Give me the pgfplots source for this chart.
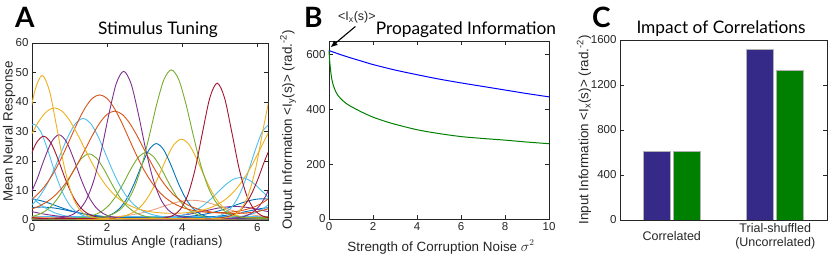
\documentclass[border=0pt]{standalone}
\usepackage{fontspec}
\setmainfont{Liberation Sans}
\newfontfamily\titlefont{Lato}
\usepackage{pgfplots}
\pgfplotsset{compat=1.18}
\usetikzlibrary{arrows.meta}
\definecolor{mblue}{RGB}{0,114,189}
\definecolor{morange}{RGB}{217,83,25}
\definecolor{myellow}{RGB}{237,177,32}
\definecolor{mpurple}{RGB}{126,47,142}
\definecolor{mgreen}{RGB}{119,172,48}
\definecolor{mlblue}{RGB}{77,190,238}
\definecolor{mred}{RGB}{162,20,47}
\definecolor{barblue}{RGB}{53,42,135}
\definecolor{bargreen}{RGB}{0,128,0}
\definecolor{axgray}{RGB}{38,38,38}
\pgfplotsset{
 mat/.style={
  scale only axis, anchor=south west,
  axis line style={line width=0.6pt, draw=axgray},
  tick style={line width=0.6pt, draw=axgray},
  major tick length=4pt,
  tick align=inside,
  tick label style={font=\fontsize{11.5}{13}\selectfont, text=axgray},
  label style={font=\fontsize{13.4}{15}\selectfont, text=axgray},
  /pgf/number format/assume math mode=true,
  /pgf/number format/1000 sep={},
  every axis plot/.append style={line width=0.9pt},
 }
}
\begin{document}
\begin{tikzpicture}[x=1pt,y=1pt]
\useasboundingbox (0,0) rectangle (830,256);
% ---------------- Panel A ----------------
\begin{axis}[mat, at={(32pt,36pt)}, width=236pt, height=177pt,
  xmin=0, xmax=6.2832, ymin=0, ymax=60,
  xtick={0,2,4,6}, ytick={0,10,...,60},
  xlabel={Stimulus Angle (radians)}, ylabel={Mean Neural Response},
  xlabel style={at={(axis description cs:0.498,-0.124)}, anchor=center},
  ylabel style={at={(axis description cs:-0.097,0.5)}, anchor=center}]
% flat baseline responses
\addplot[mblue] coordinates {(-0.2,0.3) (6.5,0.3)};
\addplot[mgreen] coordinates {(-0.2,0.55) (6.5,0.55)};
\addplot[myellow] coordinates {(-0.2,0.15) (6.5,0.15)};
\addplot[mred] coordinates {(-0.2,0.8) (6.5,0.8)};
\addplot[morange] coordinates {(-0.2,1.0) (6.5,1.0)};
\addplot[mpurple] coordinates {(-0.2,0.65) (6.5,0.65)};
\addplot[mlblue] coordinates {(-0.2,1.25) (6.5,1.25)};
% C19 blue small
\addplot[mblue, smooth] coordinates {(-0.1427,3.97) (0.25,4.4) (0.6427,3.97) (1.0354,2.98) (1.4281,1.98) (1.8208,1.29) (2.2135,0.90) (2.6062,0.71) (2.9989,0.62) (3.3916,0.60) (3.7843,0.62) (4.1770,0.71) (4.5697,0.90) (4.9624,1.29) (5.3551,1.98) (5.7478,2.98) (6.1405,3.97) (6.5332,4.4)};
% C20 purple small
\addplot[mpurple, smooth] coordinates {(-0.0978,3.11) (0.2949,2.06) (0.6876,1.34) (1.0803,0.93) (1.4730,0.72) (1.8657,0.63) (2.2584,0.61) (2.6511,0.63) (3.0438,0.72) (3.4365,0.93) (3.8292,1.34) (4.2219,2.06) (4.6146,3.11) (5.0073,4.15) (5.4,4.6) (5.7927,4.15) (6.1854,3.11) (6.5781,2.06)};
% C18 blue
\addplot[mblue, smooth] coordinates {(-0.1332,7.2) (0.0632,7.01) (0.2595,6.47) (0.4559,5.68) (0.6522,4.78) (0.8486,3.89) (1.0449,3.09) (1.2413,2.43) (1.4376,1.92) (1.6340,1.53) (1.8303,1.25) (2.0267,1.06) (2.2230,0.92) (2.6157,0.78) (3.0084,0.74) (3.4011,0.78) (3.7938,0.92) (3.9902,1.06) (4.1865,1.25) (4.3829,1.53) (4.5792,1.92) (4.7756,2.43) (4.9719,3.09) (5.1683,3.89) (5.3646,4.78) (5.5610,5.68) (5.7573,6.47) (5.9537,7.01) (6.15,7.2) (6.3463,7.01)};
% C17 light orange
\addplot[morange!55, smooth] coordinates {(-0.0697,1.19) (0.3230,0.89) (0.7157,0.75) (1.1084,0.71) (1.5011,0.75) (1.8938,0.89) (2.2865,1.19) (2.4829,1.45) (2.6792,1.81) (2.8756,2.28) (3.0719,2.90) (3.2683,3.63) (3.4646,4.46) (3.6610,5.29) (3.8573,6.02) (4.0537,6.52) (4.25,6.7) (4.4463,6.52) (4.6427,6.02) (4.8390,5.29) (5.0354,4.46) (5.2317,3.63) (5.4281,2.90) (5.6244,2.28) (5.8208,1.81) (6.0171,1.45) (6.2135,1.19) (6.4098,1.01)};
% C16 light blue broad
\addplot[mlblue, smooth] coordinates {(-0.1441,9.59) (0.0522,7.13) (0.2486,5.01) (0.4449,3.39) (0.6413,2.27) (0.8376,1.55) (1.0340,1.11) (1.2303,0.84) (1.4267,0.69) (1.6230,0.60) (2.0157,0.51) (2.4084,0.49) (2.8011,0.51) (3.1938,0.60) (3.3902,0.69) (3.5865,0.84) (3.7829,1.11) (3.9792,1.55) (4.1756,2.27) (4.3719,3.39) (4.5683,5.01) (4.7646,7.13) (4.9610,9.59) (5.1573,11.97) (5.3537,13.74) (5.55,14.4) (5.7463,13.74) (5.9427,11.97) (6.1390,9.59) (6.3354,7.13)};
% C10 green
\addplot[mgreen, smooth] coordinates {(-0.0508,1.06) (0.1456,1.72) (0.3419,2.94) (0.5383,5.04) (0.7346,8.29) (0.9310,12.60) (1.1273,17.25) (1.3237,20.97) (1.52,22.4) (1.7163,20.97) (1.9127,17.25) (2.1090,12.60) (2.3054,8.29) (2.5017,5.04) (2.6981,2.94) (2.8944,1.72) (3.0908,1.06) (3.2871,0.74) (3.4835,0.57) (3.6798,0.49) (3.8762,0.45) (4.0725,0.45) (4.2689,0.45) (4.4652,0.45) (4.6616,0.45) (4.8579,0.45) (5.0543,0.45) (5.2506,0.45) (5.4470,0.45) (5.6433,0.49) (5.8397,0.57) (6.0360,0.74) (6.2324,1.06) (6.4287,1.72)};
% C13 green
\addplot[mgreen, smooth] coordinates {(-0.1016,0.45) (0.0948,0.45) (0.2911,0.45) (0.4875,0.45) (0.6838,0.45) (0.8802,0.50) (1.0765,0.58) (1.2729,0.74) (1.4692,1.08) (1.6656,1.75) (1.8619,2.99) (2.0583,5.15) (2.2546,8.47) (2.4510,12.87) (2.6473,17.64) (2.8437,21.44) (3.04,22.9) (3.2363,21.44) (3.4327,17.64) (3.6290,12.87) (3.8254,8.47) (4.0217,5.15) (4.2181,2.99) (4.4144,1.75) (4.6108,1.08) (4.8071,0.74) (5.0035,0.58) (5.1998,0.50) (5.3962,0.45) (5.5925,0.45) (5.7889,0.45) (5.9852,0.45) (6.1816,0.45) (6.3779,0.45)};
% C15 yellow
\addplot[myellow, smooth] coordinates {(-0.1433,0.52) (0.0530,0.45) (0.2494,0.45) (0.4457,0.45) (0.6421,0.45) (0.8384,0.45) (1.0348,0.45) (1.2311,0.45) (1.4275,0.45) (1.6238,0.45) (1.8202,0.52) (2.0165,0.61) (2.2129,0.81) (2.4092,1.22) (2.6056,2.01) (2.8019,3.51) (2.9983,6.10) (3.1946,10.09) (3.3910,15.37) (3.5873,21.08) (3.7837,25.65) (3.98,27.4) (4.1763,25.65) (4.3727,21.08) (4.5690,15.37) (4.7654,10.09) (4.9617,6.10) (5.1581,3.51) (5.3544,2.01) (5.5508,1.22) (5.7471,0.81) (5.9435,0.61) (6.1398,0.52) (6.3362,0.45)};
% C14 blue
\addplot[mblue, smooth] coordinates {(-0.0279,0.4) (0.1684,0.4) (0.3648,0.4) (0.5611,0.4) (0.7575,0.4) (0.9538,0.4) (1.1502,0.4) (1.3465,0.45) (1.5429,0.52) (1.7392,0.68) (1.9356,1.08) (2.1319,1.99) (2.3283,3.85) (2.5246,7.23) (2.7210,12.34) (2.9173,18.51) (3.1137,23.79) (3.31,25.9) (3.5063,23.79) (3.7027,18.51) (3.8990,12.34) (4.0954,7.23) (4.2917,3.85) (4.4881,1.99) (4.6844,1.08) (4.8808,0.68) (5.0771,0.52) (5.2735,0.45) (5.4698,0.4) (5.6662,0.4) (5.8625,0.4) (6.0589,0.4) (6.2552,0.4) (6.4516,0.4)};
% C9 light blue
\addplot[mlblue, smooth] coordinates {(-0.0144,4.95) (0.1819,7.67) (0.3783,11.59) (0.5746,16.75) (0.7710,22.71) (0.9673,28.51) (1.1637,32.81) (1.36,34.4) (1.5563,32.81) (1.7527,28.51) (1.9490,22.71) (2.1454,16.75) (2.3417,11.59) (2.5381,7.67) (2.7344,4.95) (2.9308,3.19) (3.1271,2.11) (3.3235,1.47) (3.5198,1.10) (3.7162,0.88) (3.9125,0.75) (4.1089,0.68) (4.3052,0.64) (4.5016,0.63) (4.6979,0.64) (4.8943,0.68) (5.0906,0.75) (5.2870,0.88) (5.4833,1.10) (5.6797,1.47) (5.8760,2.11) (6.0724,3.19) (6.2687,4.95) (6.4651,7.67)};
% C3 light blue
\addplot[mlblue, smooth] coordinates {(-0.1564,29.84) (0.04,32.5) (0.2363,29.84) (0.4327,23.19) (0.6290,15.44) (0.8254,8.99) (1.0217,4.74) (1.2181,2.40) (1.4144,1.26) (1.6108,0.76) (1.8071,0.55) (2.0035,0.46) (2.1998,0.4) (2.3962,0.4) (2.5925,0.4) (2.7889,0.4) (2.9852,0.4) (3.1816,0.4) (3.3779,0.4) (3.5743,0.4) (3.7706,0.4) (3.9670,0.4) (4.1633,0.4) (4.3597,0.46) (4.5560,0.55) (4.7524,0.76) (4.9487,1.26) (5.1451,2.40) (5.3414,4.74) (5.5378,8.99) (5.7341,15.44) (5.9305,23.19) (6.1268,29.84) (6.3232,32.5)};
% C4 dark red
\addplot[mred, smooth] coordinates {(-0.0827,20.28) (0.1137,26.08) (0.31,28.4) (0.5063,26.08) (0.7027,20.28) (0.8990,13.52) (1.0954,7.90) (1.2917,4.19) (1.4881,2.14) (1.6844,1.15) (1.8808,0.71) (2.0771,0.53) (2.2735,0.46) (2.4698,0.4) (2.6662,0.4) (2.8625,0.4) (3.0589,0.4) (3.2552,0.4) (3.4516,0.4) (3.6479,0.4) (3.8443,0.4) (4.0406,0.4) (4.2370,0.4) (4.4333,0.4) (4.6297,0.46) (4.8260,0.53) (5.0224,0.71) (5.2187,1.15) (5.4151,2.14) (5.6114,4.19) (5.8078,7.90) (6.0041,13.52) (6.2005,20.28) (6.3968,26.08)};
% C5 purple
\addplot[mpurple, smooth] coordinates {(-0.0654,8.03) (0.1310,13.75) (0.3273,20.64) (0.5237,26.54) (0.72,28.9) (0.9163,26.54) (1.1127,20.64) (1.3090,13.75) (1.5054,8.03) (1.7017,4.26) (1.8981,2.17) (2.0944,1.16) (2.2908,0.72) (2.4871,0.53) (2.6835,0.46) (2.8798,0.4) (3.0762,0.4) (3.2725,0.4) (3.4689,0.4) (3.6652,0.4) (3.8616,0.4) (4.0579,0.4) (4.2543,0.4) (4.4506,0.4) (4.6470,0.4) (4.8433,0.4) (5.0397,0.46) (5.2360,0.53) (5.4324,0.72) (5.6287,1.16) (5.8251,2.17) (6.0214,4.26) (6.2178,8.03) (6.4141,13.75)};
% C7 orange
\addplot[morange, smooth] coordinates {(-0.1562,3.22) (0.0402,3.94) (0.2365,4.99) (0.4329,6.48) (0.6292,8.54) (0.8256,11.31) (1.0219,14.86) (1.2183,19.14) (1.4146,23.92) (1.6110,28.75) (1.8073,32.96) (2.0037,35.86) (2.2,36.9) (2.3963,35.86) (2.5927,32.96) (2.7890,28.75) (2.9854,23.92) (3.1817,19.14) (3.3781,14.86) (3.5744,11.31) (3.7708,8.54) (3.9671,6.48) (4.1635,4.99) (4.3598,3.94) (4.5562,3.22) (4.7525,2.74) (4.9489,2.44) (5.1452,2.27) (5.3416,2.22) (5.5379,2.27) (5.7343,2.44) (5.9306,2.74) (6.1270,3.22) (6.3233,3.94)};
% C6 orange
\addplot[morange, smooth] coordinates {(-0.1635,5.68) (0.0329,7.39) (0.2292,9.77) (0.4256,12.96) (0.6219,17.04) (0.8183,21.96) (1.0146,27.47) (1.2110,33.02) (1.4073,37.87) (1.6037,41.21) (1.8,42.4) (1.9963,41.21) (2.1927,37.87) (2.3890,33.02) (2.5854,27.47) (2.7817,21.96) (2.9781,17.04) (3.1744,12.96) (3.3708,9.77) (3.5671,7.39) (3.7635,5.68) (3.9598,4.47) (4.1562,3.64) (4.3525,3.09) (4.5489,2.74) (4.7452,2.55) (4.9416,2.49) (5.1379,2.55) (5.3343,2.74) (5.5306,3.09) (5.7270,3.64) (5.9233,4.47) (6.1197,5.68) (6.3160,7.39)};
% C2 yellow broad
\addplot[myellow, smooth] coordinates {(-0.1854,24.63) (0.0110,29.60) (0.2073,33.94) (0.4037,36.93) (0.6,38.0) (0.7963,36.93) (0.9927,33.94) (1.1890,29.60) (1.3854,24.63) (1.5817,19.70) (1.7781,15.30) (1.9744,11.64) (2.1708,8.79) (2.3671,6.66) (2.5635,5.13) (2.7598,4.05) (2.9562,3.30) (3.1525,2.81) (3.3489,2.50) (3.5452,2.33) (3.7416,2.27) (3.9379,2.33) (4.1343,2.50) (4.3306,2.81) (4.5270,3.30) (4.7233,4.05) (4.9197,5.13) (5.1160,6.66) (5.3124,8.79) (5.5087,11.64) (5.7051,15.30) (5.9014,19.70) (6.0978,24.63) (6.2941,29.60)};
% C8 purple
\addplot[mpurple, smooth] coordinates {(-0.1125,0.4) (0.0838,0.4) (0.2802,0.4) (0.4765,0.50) (0.6729,0.63) (0.8692,0.96) (1.0656,1.74) (1.2619,3.51) (1.4583,7.17) (1.6546,13.79) (1.8510,23.82) (2.0473,35.90) (2.2437,46.26) (2.44,50.4) (2.6363,46.26) (2.8327,35.90) (3.0290,23.82) (3.2254,13.79) (3.4217,7.17) (3.6181,3.51) (3.8144,1.74) (4.0108,0.96) (4.2071,0.63) (4.4035,0.50) (4.5998,0.4) (4.7962,0.4) (4.9925,0.4) (5.1889,0.4) (5.3852,0.4) (5.5816,0.4) (5.7779,0.4) (5.9743,0.4) (6.1706,0.4) (6.3670,0.4)};
% C11 green
\addplot[mgreen, smooth] coordinates {(-0.0206,0.48) (0.1757,0.45) (0.3721,0.45) (0.5684,0.45) (0.7648,0.45) (0.9611,0.45) (1.1575,0.48) (1.3538,0.53) (1.5502,0.62) (1.7465,0.80) (1.9429,1.17) (2.1392,1.93) (2.3356,3.42) (2.5319,6.22) (2.7283,11.06) (2.9246,18.52) (3.1210,28.40) (3.3173,39.09) (3.5137,47.62) (3.71,50.9) (3.9063,47.62) (4.1027,39.09) (4.2990,28.40) (4.4954,18.52) (4.6917,11.06) (4.8881,6.22) (5.0844,3.42) (5.2808,1.93) (5.4771,1.17) (5.6735,0.80) (5.8698,0.62) (6.0662,0.53) (6.2625,0.48) (6.4589,0.45)};
% C12 dark red
\addplot[mred, smooth] coordinates {(-0.1751,1.53) (0.0212,0.77) (0.2176,0.52) (0.4139,0.44) (0.6103,0.44) (0.8066,0.44) (1.0030,0.44) (1.1993,0.44) (1.3957,0.44) (1.5920,0.44) (1.7884,0.44) (1.9847,0.44) (2.1811,0.44) (2.3774,0.44) (2.5738,0.44) (2.7701,0.44) (2.9665,0.44) (3.1629,0.44) (3.3592,0.52) (3.5556,0.77) (3.7519,1.53) (3.9483,3.60) (4.1446,8.34) (4.3410,17.13) (4.5373,29.54) (4.7337,41.39) (4.93,46.4) (5.1263,41.39) (5.3227,29.54) (5.5190,17.13) (5.7154,8.34) (5.9117,3.60) (6.1081,1.53) (6.3044,0.77)};
% C1 yellow
\addplot[myellow, smooth] coordinates {(-0.1227,31.18) (0.0737,43.71) (0.27,49.0) (0.4663,43.71) (0.6627,31.18) (0.8590,18.08) (1.0554,8.78) (1.2517,3.78) (1.4481,1.60) (1.6444,0.79) (1.8408,0.52) (2.0371,0.44) (2.2335,0.44) (2.4298,0.44) (2.6262,0.44) (2.8225,0.44) (3.0189,0.44) (3.2152,0.44) (3.4116,0.44) (3.6079,0.44) (3.8043,0.44) (4.0006,0.44) (4.1970,0.44) (4.3933,0.44) (4.5897,0.44) (4.7860,0.44) (4.9824,0.52) (5.1787,0.79) (5.3751,1.60) (5.5714,3.78) (5.7678,8.78) (5.9641,18.08) (6.1605,31.18) (6.3568,43.71)};
\end{axis}
% ---------------- Panel B ----------------
\begin{axis}[mat, at={(329pt,37pt)}, width=220pt, height=178pt,
  xmin=0, xmax=10, ymin=0, ymax=650,
  xtick={0,2,...,10}, ytick={0,200,400,600}, clip=false,
  xlabel={Strength of Corruption Noise $\sigma^2$},
  ylabel={Output Information <I\textsubscript{y}(s)> (rad.\textsuperscript{-2})},
  xlabel style={at={(axis description cs:0.509,-0.157)}, anchor=center},
  ylabel style={at={(axis description cs:-0.186,0.5)}, anchor=center}]
\addplot[blue, line width=1pt, smooth] coordinates {(0,615) (0.5,601) (1,588) (1.5,576) (2,564) (3,544) (4,527) (5,511) (6,497) (7,484) (8,471) (9,458) (10,446)};
\addplot[bargreen, line width=1pt, smooth] coordinates {(0,615) (0.02,590) (0.05,560) (0.1,525) (0.15,502) (0.2,487) (0.3,466) (0.4,452) (0.6,434) (0.8,421) (1,411) (1.5,390) (2,372) (2.5,358) (3,346) (4,326) (5,312) (6,301) (7,294) (8,288) (9,281) (10,275)};
\draw[-{Latex[length=7pt,width=6pt]}, line width=1.1pt] (axis cs:1.2,703) -- (axis cs:0.07,627);
\node[font=\fontsize{12.5}{14}\selectfont, text=axgray] at (axis cs:1.27,737) {<I\textsubscript{x}(s)>};
\end{axis}
% ---------------- Panel C ----------------
\begin{axis}[mat, at={(620pt,36pt)}, width=207pt, height=180pt,
  xmin=0.5, xmax=2.5, ymin=0, ymax=1600,
  ytick={0,400,...,1600}, xtick={1,2},
  xticklabels={Correlated,{Trial-shuffled\\(Uncorrelated)}},
  xticklabel style={align=center, anchor=center, yshift=-16pt, font=\fontsize{12.5}{14}\selectfont},
  xtick style={draw=none},
  ylabel={Input Information <I\textsubscript{x}(s)> (rad.\textsuperscript{-2})},
  ylabel style={at={(axis description cs:-0.174,0.5)}, anchor=center}]
\addplot[ybar, bar width=27pt, bar shift=-15pt, fill=barblue, draw=gray!60, line width=0.8pt] coordinates {(1,613) (2,1517)};
\addplot[ybar, bar width=27pt, bar shift=15pt, fill=bargreen, draw=gray!60, line width=0.8pt] coordinates {(1,613) (2,1327)};
\end{axis}
% titles and panel letters
\node[font=\titlefont\fontsize{17.3}{20}\selectfont, anchor=base] at (158,221) {Stimulus Tuning};
\node[font=\titlefont\fontsize{17.3}{20}\selectfont, anchor=base] at (466,221) {Propagated Information};
\node[font=\titlefont\fontsize{17.3}{20}\selectfont, anchor=base] at (721,222) {Impact of Correlations};
\node[font=\titlefont\bfseries\fontsize{28}{32}\selectfont, anchor=base west, inner sep=0pt] at (15,228) {A};
\node[font=\titlefont\bfseries\fontsize{28}{32}\selectfont, anchor=base west, inner sep=0pt] at (304,228) {B};
\node[font=\titlefont\bfseries\fontsize{28}{32}\selectfont, anchor=base west, inner sep=0pt] at (592,228) {C};
\end{tikzpicture}
\end{document}
